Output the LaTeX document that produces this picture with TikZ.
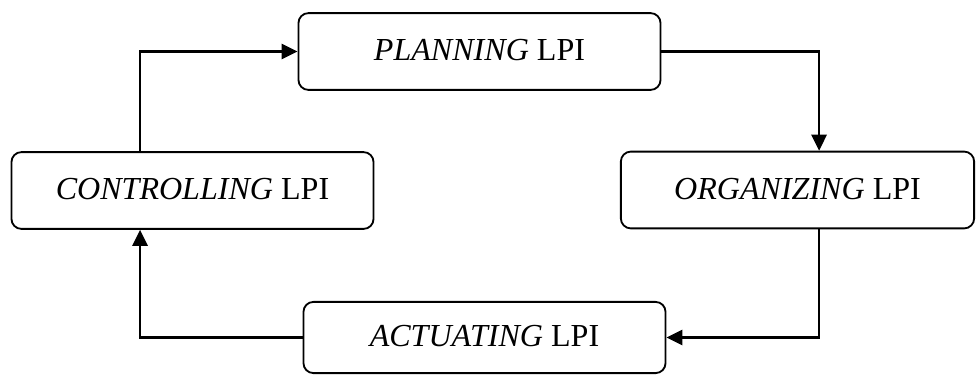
\documentclass[tikz,border=0pt]{standalone}
\usepackage{fontspec}
\setmainfont{Liberation Serif}
\usepackage{tikz}
\usetikzlibrary{arrows.meta}

\begin{document}
\begin{tikzpicture}[
        x=0.025cm,
        y=-0.025cm,
        lpibox/.style={
            rectangle,
            draw,
            line width=1.3pt,
            rounded corners=0.25cm,
            minimum width=9.05cm,
            minimum height=1.92cm,
            text depth=0.2em,
            font=\fontsize{22.8}{27}\selectfont
        },
        flow/.style={
            line width=1.6pt,
            -{Triangle[length=0.4cm,width=0.38cm]}
        }
    ]

        \useasboundingbox (0,0) rectangle (976,375);

        \node[lpibox] (plan) at (479.5,51.5) {\textit{PLANNING} LPI};
        \node[lpibox] (ctrl) at (192.5,190.5) {\textit{CONTROLLING} LPI};
        \node[lpibox, minimum width=8.83cm] (org) at (797.5,190) {\textit{ORGANIZING} LPI};
        \node[lpibox, minimum height=1.78cm] (act) at (484.5,337.5) {\textit{ACTUATING} LPI};

        \draw[flow] ([xshift=-1.31cm]ctrl.north) |- (plan.west);
        \draw[flow] (plan.east) -| ([xshift=0.54cm]org.north);
        \draw[flow] ([xshift=0.54cm]org.south) |- (act.east);
        \draw[flow] (act.west) -| ([xshift=-1.31cm]ctrl.south);

    \end{tikzpicture}
\end{document}
